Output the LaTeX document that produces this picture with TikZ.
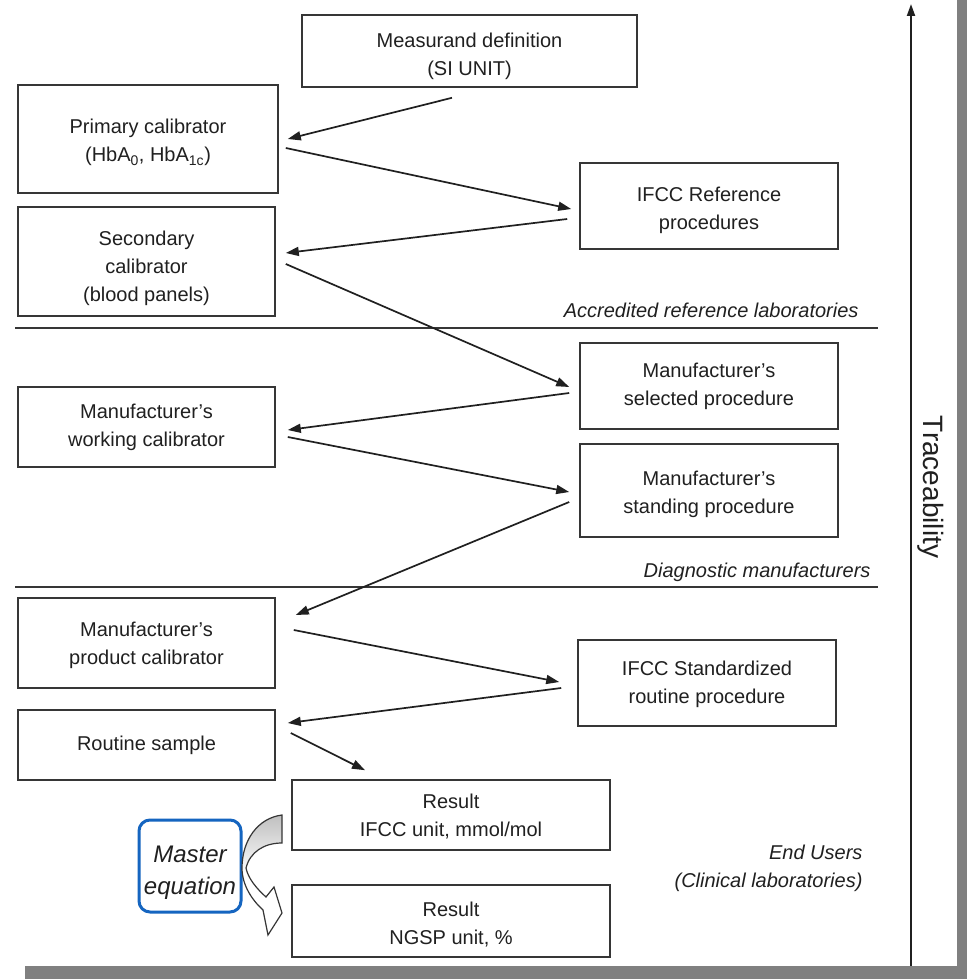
\documentclass[tikz,border=0pt]{standalone}
\usepackage{fontspec}
\setmainfont{Liberation Sans}
\usetikzlibrary{arrows.meta}
\definecolor{ink}{HTML}{202020}
\definecolor{edge}{HTML}{363636}
\definecolor{shadow}{HTML}{808080}
\definecolor{eqblue}{HTML}{1565C0}
% strut on a first line: a taller first line pushes the text block down
\newcommand{\firststrut}[1]{\rule{0pt}{#1}}

\begin{document}
\begin{tikzpicture}[x=1pt,y=-1pt,
  box/.style={draw=edge, line width=1.6pt, fill=white, align=center, text=ink,
              inner sep=0pt, font=\fontsize{20}{28}\selectfont},
  link/.style={draw=ink, line width=1.7pt, -{Triangle[length=13pt,width=9pt]}},
  zone/.style={text=ink, font=\fontsize{20}{28}\selectfont\itshape, anchor=east, align=right},
  divider/.style={draw=edge, line width=1.6pt}]

% page with drop shadow
\useasboundingbox (0,0) rectangle (967,979);
\fill[white] (0,0) rectangle (967,979);
\fill[shadow] (957,0) rectangle (967,979);
\fill[shadow] (25,966) rectangle (967,979);

% calibration hierarchy
\node[box, minimum width=335pt, minimum height=72pt] (meas) at (469.5,51) {\firststrut{25pt}Measurand definition\\(SI UNIT)};
\node[box, minimum width=260pt, minimum height=108pt] (prim) at (148,139) {\firststrut{22pt}Primary calibrator\\(HbA\textsubscript{0}, HbA\textsubscript{1c})};
\node[box, minimum width=258pt, minimum height=86pt] (ifccref) at (709,206) {\firststrut{24pt}IFCC Reference\\procedures};
\node[box, minimum width=257pt, minimum height=109pt] (sec) at (146.5,261.5) {\firststrut{29pt}Secondary\\calibrator\\(blood panels)};
\node[box, minimum width=258pt, minimum height=86pt] (sel) at (709,386) {Manufacturer’s\\selected procedure};
\node[box, minimum width=257pt, minimum height=80pt] (work) at (146.5,427) {Manufacturer’s\\working calibrator};
\node[box, minimum width=258pt, minimum height=93pt] (stand) at (709,490.5) {\firststrut{23pt}Manufacturer’s\\standing procedure};
\node[box, minimum width=257pt, minimum height=90pt] (prod) at (146.5,643) {\firststrut{20pt}Manufacturer’s\\product calibrator};
\node[box, minimum width=258pt, minimum height=86pt] (routproc) at (707,683) {\firststrut{18pt}IFCC Standardized\\routine procedure};
\node[box, minimum width=257pt, minimum height=70pt] (rsample) at (146.5,745) {Routine sample};
\node[box, minimum width=318pt, minimum height=70pt] (res1) at (451,815) {\firststrut{17pt}Result\\IFCC unit, mmol/mol};
\node[box, minimum width=318pt, minimum height=72pt] (res2) at (451,921) {\firststrut{22pt}Result\\NGSP unit, \%};

% zone separators and labels
\draw[divider] (15,328) -- (878,328);
\draw[divider] (15,587) -- (878,587);
\node[zone] (accr) at (862,310) {Accredited reference laboratories};
\node[zone] (diag) at (874,572) {Diagnostic manufacturers};
\node[zone] (endu) at (866,868) {End Users\\(Clinical laboratories)};

% transfer arrows
\draw[link] ([shift={(-17.5,10)}]meas.south) -- ([shift={(9,0)}]prim.east);
\draw[link] ([shift={(7,9)}]prim.east) -- ([shift={(-8,3)}]ifccref.west);
\draw[link] ([shift={(-12,13)}]ifccref.west) -- ([shift={(10,-8.5)}]sec.east);
\draw[link] ([shift={(10,2.5)}]sec.east) -- ([shift={(-10,1)}]sel.west);
\draw[link] ([shift={(-10,7)}]sel.west) -- ([shift={(12,3)}]work.east);
\draw[link] ([shift={(12,10)}]work.east) -- ([shift={(-10,1.5)}]stand.west);
\draw[link] ([shift={(-10,11.5)}]stand.west) -- ([shift={(20,-28)}]prod.east);
\draw[link] ([shift={(18,-13)}]prod.east) -- ([shift={(-18,-1)}]routproc.west);
\draw[link] ([shift={(-16,5)}]routproc.west) -- ([shift={(12,-22)}]rsample.east);
\draw[link] ([shift={(15,-12)}]rsample.east) -- ([shift={(-86,-9)}]res1.north);

% traceability axis
\coordinate (tbase) at (911,966);
\coordinate (ttop) at (911,4);
\draw[draw=ink, line width=2pt, -{Triangle[length=12pt,width=8pt]}] (tbase) -- (ttop);
\node[rotate=-90, text=ink, font=\fontsize{28}{30}\selectfont] (trace) at (931,487) {Traceability};

% master equation
\node[draw=eqblue, line width=3pt, rounded corners=11pt, minimum width=102pt, minimum height=92pt,
      align=center, text=ink, font=\fontsize{24}{32}\selectfont\itshape] (master) at (190,866) {\firststrut{29pt}Master\\equation};

% curved conversion arrow
\draw[draw=edge, line width=1.2pt, top color=gray!50, bottom color=white, middle color=white]
  (282,815) .. controls (258,818) and (242,840) .. (242,868)
  .. controls (242,885) and (252,900) .. (263,910)
  -- (268,935) -- (282,913) -- (274,887) -- (266,897)
  .. controls (256,888) and (248,878) .. (246,868)
  .. controls (250,852) and (264,843) .. (282,843) -- cycle;
\end{tikzpicture}
\end{document}
